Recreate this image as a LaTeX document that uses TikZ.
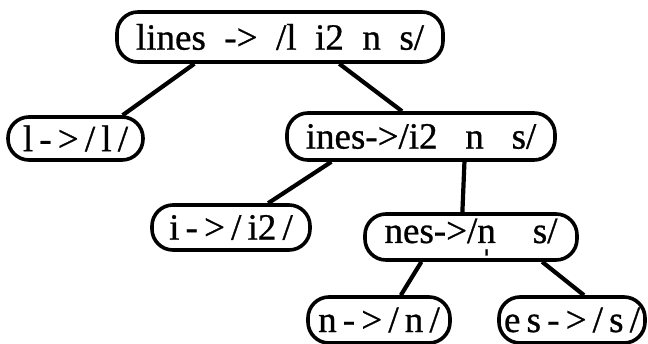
\documentclass[tikz,border=0pt]{standalone}
\usepackage{fontspec}
\setmainfont{Liberation Serif}[FakeBold=0.8]
\usetikzlibrary{calc}

\newcommand{\synn}{\ooalign{n\cr\hidewidth\raisebox{-0.12em}{ˌ}\hidewidth}}

\tikzset{
	rule/.style={draw, line width=3.6pt, rounded corners=21pt, inner sep=0pt,
		minimum height=46pt, font=\fontsize{37}{37}\selectfont},
	branch/.style={line width=4.2pt}
}

\begin{document}
\begin{tikzpicture}[x=1pt, y=-1pt]
	\useasboundingbox (0,0) rectangle (648,343);
	\node[rule, minimum width=326pt, minimum height=50pt] (lines) at (280,37) {lines\ \ ->\ \ /l\ \ i2\ \ n\ \ s/};
	\node[rule, minimum width=135pt, minimum height=43pt] (l) at (75.5,138.5) {l\,-\,>\,/\,l\,/};
	\node[rule, minimum width=268pt, minimum height=47pt] (ines) at (421,136.5) {ines->/i2\ \ \ n\ \ \ s/};
	\node[rule, minimum width=158pt, minimum height=45pt] (i) at (231,227.5) {i\,-\,>\,/\,i2\,/};
	\node[rule, minimum width=212pt, minimum height=46pt] (nes) at (471,237) {nes->/\synn\ \ \ \ s/};
	\node[rule, minimum width=142pt, minimum height=46pt] (n) at (379,320) {n\,-\,>\,/\,n\,/};
	\node[rule, minimum width=146pt, minimum height=46pt] (es) at (572,320) {e\,s\,-\,>\,/\,s\,/};

	% branches of the tree
	\draw[branch] ($(lines.south west)!.24!(lines.south east)$) -- ($(l.north west)!.84!(l.north east)$);
	\draw[branch] ($(lines.south west)!.68!(lines.south east)$) -- ($(ines.north west)!.43!(ines.north east)$);
	\draw[branch] ($(ines.south west)!.17!(ines.south east)$) -- ($(i.north west)!.73!(i.north east)$);
	\draw[branch] ($(ines.south west)!.66!(ines.south east)$) -- ($(nes.north west)!.46!(nes.north east)$);
	\draw[branch] ($(nes.south west)!.27!(nes.south east)$) -- ($(n.north west)!.65!(n.north east)$);
	\draw[branch] ($(nes.south west)!.83!(nes.south east)$) -- ($(es.north west)!.58!(es.north east)$);
\end{tikzpicture}
\end{document}
